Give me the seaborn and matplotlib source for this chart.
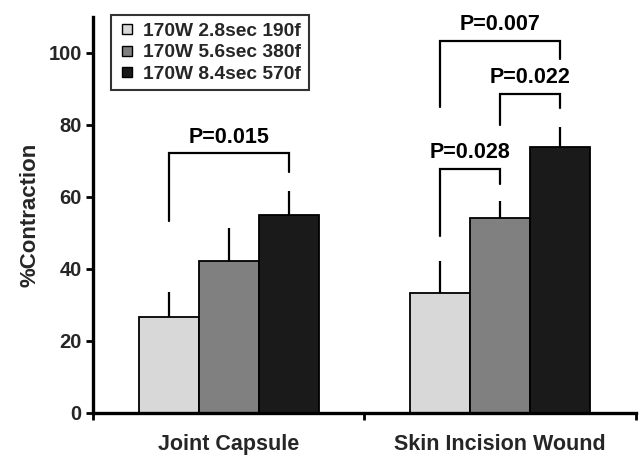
import matplotlib
matplotlib.use("Agg")
import matplotlib.pyplot as plt
import seaborn as sns
import pandas as pd
from matplotlib.lines import Line2D

sites = ["Joint Capsule", "Skin Incision Wound"]
groups = ["170W 2.8sec 190f", "170W 5.6sec 380f", "170W 8.4sec 570f"]
means_joint = [26.6, 42.2, 55.0]
means_skin = [33.4, 54.1, 74.0]
err_joint = [7.1, 9.2, 6.7]
err_skin = [8.9, 4.9, 5.5]
colors = ["#d8d8d8", "#808080", "#1a1a1a"]
yticks = [0, 20, 40, 60, 80, 100]

# brackets: (site index, group a, group b, top value, left-leg end, right-leg end, label)
brackets = [
    (0, 0, 2, 72.1, 53.3, 66.9, "P=0.015"),
    (1, 0, 2, 103.4, 84.9, 98.2, "P=0.007"),
    (1, 1, 2, 88.6, 79.9, 84.6, "P=0.022"),
    (1, 0, 1, 67.8, 49.2, 63.5, "P=0.028"),
]

rows = []
for s, m, e in zip(sites, [means_joint, means_skin], [err_joint, err_skin]):
    for g, mv, ev in zip(groups, m, e):
        rows.append({"site": s, "group": g, "val": mv, "err": ev})
df = pd.DataFrame(rows)

sns.set_theme(style="white")
plt.rcParams["font.family"] = ["Liberation Sans", "DejaVu Sans"]
plt.rcParams["font.weight"] = "bold"

fig = plt.figure(figsize=(6.39, 4.57), dpi=100)
ax = fig.add_axes([0.1455, 0.0963, 0.8495, 0.8667])

sns.barplot(data=df, x="site", y="val", hue="group", palette=colors,
            width=0.663, edgecolor="black", linewidth=1.3, ax=ax,
            legend=False, errorbar=None, saturation=1)

bar_containers = list(ax.containers)
centers = {}
for gi, cont in enumerate(bar_containers):
    for si, patch in enumerate(cont.patches):
        cx = patch.get_x() + patch.get_width() / 2
        h = patch.get_height()
        centers[(si, gi)] = cx
        err = df[(df.site == sites[si]) & (df.group == groups[gi])]["err"].iloc[0]
        ax.errorbar(cx, h, yerr=[[0], [err]], fmt="none", ecolor="black",
                    elinewidth=1.6, capsize=0, zorder=1)

for si, ga, gb, top, la, lb, lab in brackets:
    xa, xb = centers[(si, ga)], centers[(si, gb)]
    ax.plot([xa, xa, xb, xb], [la, top, top, lb], color="black", lw=1.6,
            solid_joinstyle="miter", clip_on=False)
    ax.text((xa + xb) / 2, top + 1.6, lab, ha="center", va="bottom",
            fontsize=15.5, fontweight="bold", color="black")

ax.set_xlim(-0.5, 1.5)
ax.set_ylim(0, 110)
ax.set_yticks(yticks)
ax.set_yticklabels([str(t) for t in yticks], fontsize=14.5, fontweight="bold")
ax.set_xticks([0, 1])
ax.set_xticklabels(sites, fontsize=15.5, fontweight="bold")
ax.set_xticks([-0.5, 0.5, 1.5], minor=True)
ax.tick_params(axis="x", which="major", length=0, pad=15)
ax.tick_params(axis="x", which="minor", length=5, width=2, direction="out", color="black", bottom=True)
ax.tick_params(axis="y", length=5, width=2, direction="out", color="black", left=True, pad=3)
ax.set_xlabel("")
ax.set_ylabel("%Contraction", fontsize=16, fontweight="bold", labelpad=6)

for sp in ["top", "right"]:
    ax.spines[sp].set_visible(False)
for sp in ["left", "bottom"]:
    ax.spines[sp].set_linewidth(2.4)
    ax.spines[sp].set_color("black")

handles = [Line2D([0], [0], marker="s", linestyle="none", markersize=7.5,
                  markerfacecolor=c, markeredgecolor="black", markeredgewidth=1.0)
           for c in colors]
leg = ax.legend(handles, groups, loc="upper left", bbox_to_anchor=(0.034, 1.005),
                borderaxespad=0, frameon=True, fancybox=False, handlelength=0.8,
                handletextpad=0.45, labelspacing=0.2, borderpad=0.4,
                prop={"size": 13.8, "weight": "bold"})
leg.get_frame().set_edgecolor("black")
leg.get_frame().set_linewidth(1.5)

fig.savefig("out.png", dpi=100)
